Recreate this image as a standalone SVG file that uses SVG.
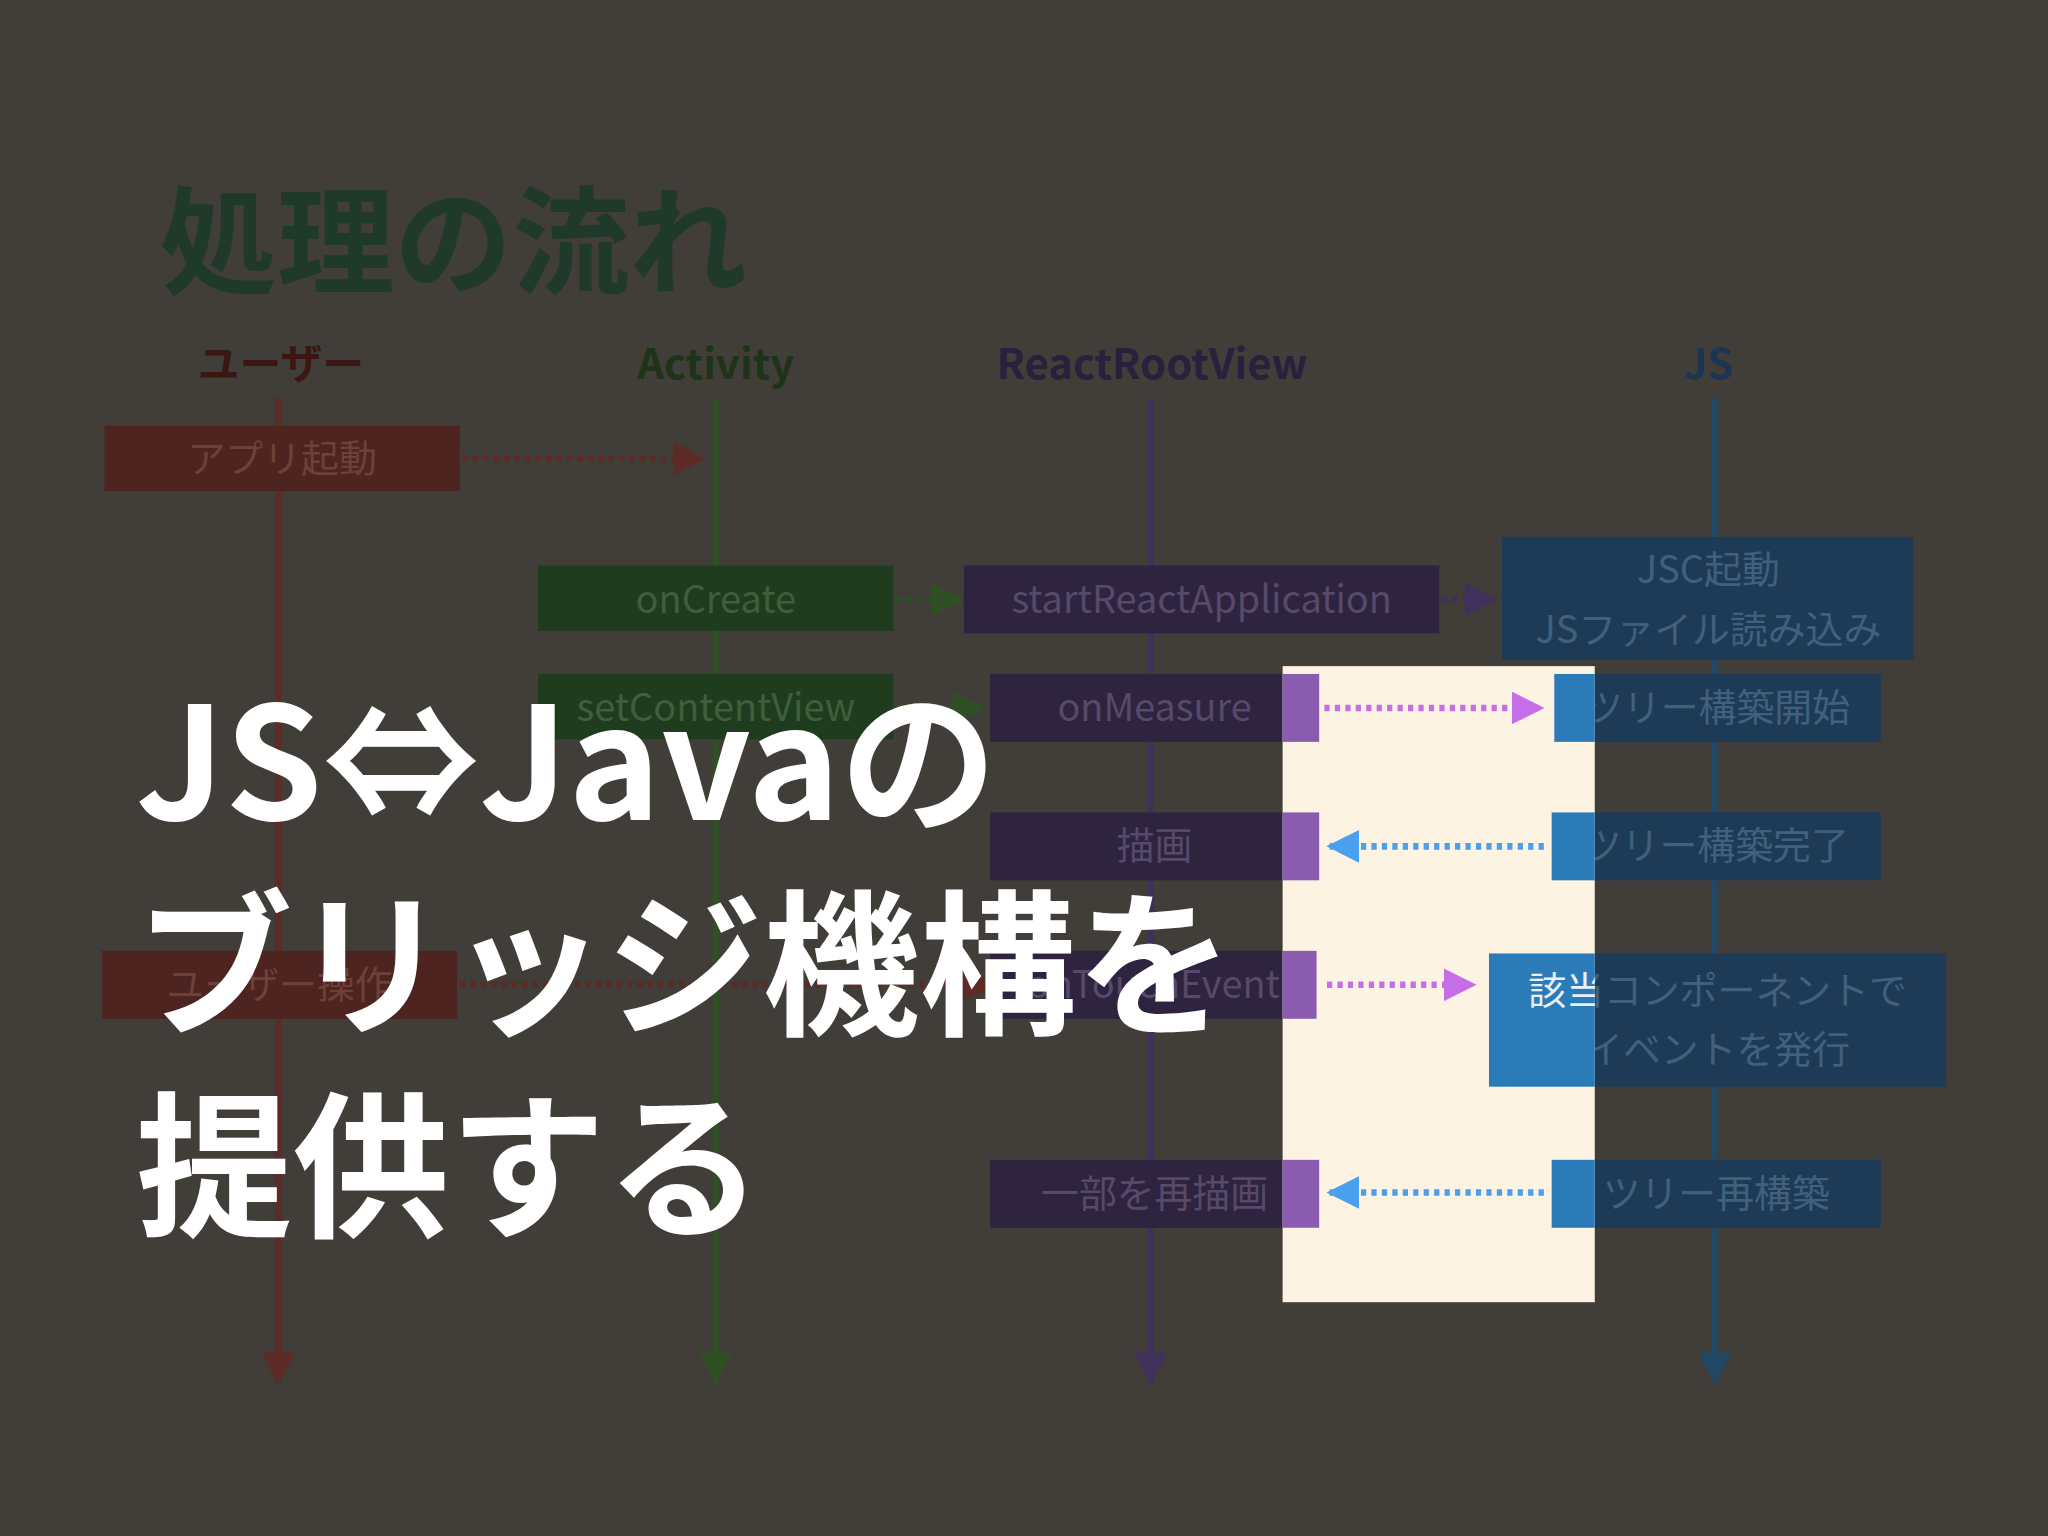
<svg xmlns="http://www.w3.org/2000/svg" width="2048" height="1536" viewBox="0 0 2048 1536">
<defs>
<style>
text{font-family:"Noto Sans CJK JP","Noto Sans",sans-serif}
.bt{font-size:29px;text-anchor:middle}
.hd{font-size:32px;font-weight:bold;text-anchor:middle}
.big{font-size:120px;font-weight:bold;fill:#fff}
.ln{stroke-width:5;fill:none}
.dt{stroke-width:5;stroke-dasharray:4 4;fill:none}
</style>
<marker id="mr" viewBox="0 0 10 10" refX="9" refY="5" markerWidth="5" markerHeight="5" orient="auto"><path d="M0,0L10,5L0,10Z" fill="#5e2a25"/></marker>
<marker id="mg" viewBox="0 0 10 10" refX="9" refY="5" markerWidth="5" markerHeight="5" orient="auto"><path d="M0,0L10,5L0,10Z" fill="#2f5024"/></marker>
<marker id="mp" viewBox="0 0 10 10" refX="9" refY="5" markerWidth="5" markerHeight="5" orient="auto"><path d="M0,0L10,5L0,10Z" fill="#40305c"/></marker>
<marker id="mb" viewBox="0 0 10 10" refX="9" refY="5" markerWidth="5" markerHeight="5" orient="auto"><path d="M0,0L10,5L0,10Z" fill="#234866"/></marker>
<marker id="mv" viewBox="0 0 10 10" refX="9" refY="5" markerWidth="5" markerHeight="5" orient="auto"><path d="M0,0L10,5L0,10Z" fill="#c56ee8"/></marker>
<marker id="ml" viewBox="0 0 10 10" refX="9" refY="5" markerWidth="5" markerHeight="5" orient="auto"><path d="M0,0L10,5L0,10Z" fill="#4a9fee"/></marker>
<clipPath id="hl"><rect x="982" y="510" width="239" height="487"/></clipPath>
</defs>
<rect width="2048" height="1536" fill="#413d39"/>
<g transform="scale(1.30612)">
<text x="122" y="218" font-size="90" font-weight="bold" fill="#1f3a2a">処理の流れ</text>
<g id="headers">
<text class="hd" x="215" y="290" fill="#3c1612">ユーザー</text>
<text class="hd" x="548" y="290" fill="#1e3318">Activity</text>
<text class="hd" x="882" y="290" fill="#2a1f3c">ReactRootView</text>
<text class="hd" x="1308" y="290" fill="#1b3552">JS</text>
</g>
<g id="connectors">
<path class="ln" d="M213,305V1058" stroke="#5e2a25" marker-end="url(#mr)"/>
<path class="ln" d="M548,305V1058" stroke="#2f5024" marker-end="url(#mg)"/>
<path class="ln" d="M881,305V1058" stroke="#40305c" marker-end="url(#mp)"/>
<path class="ln" d="M1313,305V1058" stroke="#234866" marker-end="url(#mb)"/>
<path class="dt" d="M354,351H538" stroke="#5e2a25" marker-end="url(#mr)"/>
<path class="dt" d="M686,459H736" stroke="#2f5024" marker-end="url(#mg)"/>
<path class="dt" d="M1104,459H1144" stroke="#40305c" marker-end="url(#mp)"/>
<path class="dt" d="M686,542H752" stroke="#2f5024" marker-end="url(#mg)"/>
<path class="dt" d="M352,754H760" stroke="#5e2a25" marker-end="url(#mr)"/>
</g>
<g id="dark-boxes">
<rect x="80" y="326" width="272" height="50" fill="#4d2420"/><text class="bt" x="216" y="361" fill="#6e4038">アプリ起動</text>
<rect x="412" y="433" width="272" height="50" fill="#1f3d1e"/><text class="bt" x="548" y="469" fill="#3f5e3c">onCreate</text>
<rect x="738" y="433" width="364" height="52" fill="#2e2440"/><text class="bt" x="920" y="469" fill="#56496a">startReactApplication</text>
<rect x="1150" y="411" width="315" height="94" fill="#1d3b57"/><text class="bt" x="1308" y="446" fill="#40607e">JSC起動</text><text class="bt" x="1308" y="492" fill="#40607e">JSファイル読み込み</text>
<rect x="412" y="516" width="272" height="50" fill="#1f3d1e"/><text class="bt" x="548" y="552" fill="#3f5e3c">setContentView</text>
<rect x="758" y="516" width="252" height="52" fill="#2e2440"/><text class="bt" x="884" y="552" fill="#56496a">onMeasure</text>
<rect x="1190" y="516" width="250" height="52" fill="#1d3b57"/><text class="bt" x="1315" y="552" fill="#40607e">ツリー構築開始</text>
<rect x="758" y="622" width="252" height="52" fill="#2e2440"/><text class="bt" x="884" y="658" fill="#56496a">描画</text>
<rect x="1188" y="622" width="252" height="52" fill="#1d3b57"/><text class="bt" x="1314" y="658" fill="#40607e">ツリー構築完了</text>
<rect x="78" y="728" width="272" height="52" fill="#4d2420"/><text class="bt" x="214" y="764" fill="#6e4038">ユーザー操作</text>
<rect x="758" y="728" width="250" height="52" fill="#2e2440"/><text class="bt" x="883" y="764" fill="#56496a">onTouchEvent</text>
<rect x="1140" y="730" width="350" height="102" fill="#1d3b57"/><text class="bt" x="1315" y="769" fill="#40607e">該当コンポーネントで</text><text class="bt" x="1315" y="814" fill="#40607e">イベントを発行</text>
<rect x="758" y="888" width="252" height="52" fill="#2e2440"/><text class="bt" x="884" y="924" fill="#56496a">一部を再描画</text>
<rect x="1188" y="888" width="252" height="52" fill="#1d3b57"/><text class="bt" x="1314" y="924" fill="#40607e">ツリー再構築</text>
</g>
<rect id="highlight" x="982" y="510" width="239" height="487" fill="#fdf3e3"/>
<g id="bright" clip-path="url(#hl)">
<rect x="758" y="516" width="252" height="52" fill="#8a5cb0"/>
<rect x="758" y="622" width="252" height="52" fill="#8a5cb0"/>
<rect x="758" y="728" width="250" height="52" fill="#8a5cb0"/>
<rect x="758" y="888" width="252" height="52" fill="#8a5cb0"/>
<rect x="1190" y="516" width="250" height="52" fill="#2b7bb8"/>
<rect x="1188" y="622" width="252" height="52" fill="#2b7bb8"/>
<rect x="1140" y="730" width="350" height="102" fill="#2b7bb8"/><text class="bt" x="1315" y="769" fill="#e8f0f8">該当コンポーネントで</text>
<rect x="1188" y="888" width="252" height="52" fill="#2b7bb8"/>
</g>
<g id="bright-connectors">
<path class="dt" d="M1014,542H1180" stroke="#c56ee8" marker-end="url(#mv)"/>
<path class="dt" d="M1182,648H1018" stroke="#4a9fee" marker-end="url(#ml)"/>
<path class="dt" d="M1016,754H1128" stroke="#c56ee8" marker-end="url(#mv)"/>
<path class="dt" d="M1182,913H1018" stroke="#4a9fee" marker-end="url(#ml)"/>
</g>
<g id="overlay-title">
<text class="big" x="104" y="628">JS⇔Javaの</text>
<text class="big" x="104" y="783">ブリッジ機構を</text>
<text class="big" x="104" y="938">提供する</text>
</g>
</g>
</svg>
